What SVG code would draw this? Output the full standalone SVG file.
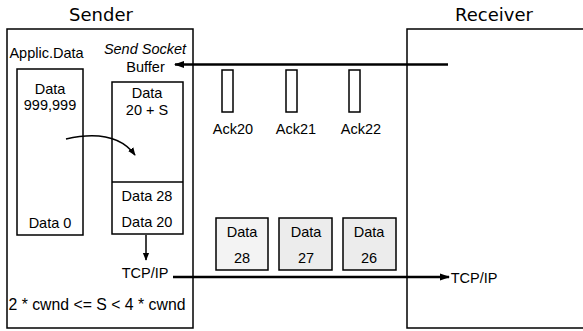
<svg xmlns="http://www.w3.org/2000/svg" width="583" height="331" viewBox="0 0 583 331">
<defs>
<style>
.t{font-family:"Liberation Sans",Arial,sans-serif;font-size:14.5px;fill:#000;text-anchor:middle}
.title{font-family:"DejaVu Sans",Verdana,sans-serif;font-size:18px;fill:#000;text-anchor:middle}
.box{fill:#fff;stroke:#000;stroke-width:1.5}
.pkt{fill:#ececec;stroke:#000;stroke-width:1.5}
.ack{fill:#fff;stroke:#000;stroke-width:1.5}
.ln{fill:none;stroke:#000;stroke-width:1.5}
.thick{fill:none;stroke:#000;stroke-width:2.5}
</style>
<marker id="ah" viewBox="0 0 10 10" refX="9" refY="5" markerWidth="10" markerHeight="10" markerUnits="userSpaceOnUse" orient="auto">
<path d="M0,1.5 L10,5 L0,8.5 Z" fill="#000"/>
</marker>
<marker id="ahs" viewBox="0 0 10 10" refX="9" refY="5" markerWidth="8" markerHeight="10" markerUnits="userSpaceOnUse" orient="auto">
<path d="M0,1 L10,5 L0,9 Z" fill="#000"/>
</marker>
</defs>
<rect width="583" height="331" fill="#fff"/>

<g id="sender">
<text class="title" x="101" y="21">Sender</text>
<rect class="box" x="7" y="29" width="186" height="299"/>
<text class="t" x="46.5" y="58">Applic.Data</text>
<text class="t" x="145" y="54" font-style="italic">Send Socket</text>
<text class="t" x="145.5" y="72">Buffer</text>
<text class="t" x="97" y="310" style="font-size:15.8px">2 * cwnd &lt;= S &lt; 4 * cwnd</text>
</g>

<g id="receiver">
<text class="title" x="494" y="21">Receiver</text>
<rect class="box" x="407" y="29" width="200" height="299"/>
</g>

<g id="applic-data">
<rect class="box" x="17" y="69" width="66" height="166"/>
<text class="t" x="50" y="94">Data</text>
<text class="t" x="50" y="110">999,999</text>
<text class="t" x="50" y="228">Data 0</text>
</g>

<g id="send-buffer">
<rect class="box" x="112" y="82" width="71" height="152"/>
<line class="ln" x1="112" y1="182" x2="183" y2="182"/>
<text class="t" x="147" y="98">Data</text>
<text class="t" x="147" y="115">20 + S</text>
<text class="t" x="147" y="201">Data 28</text>
<text class="t" x="147" y="227">Data 20</text>
</g>

<g id="tcpip-sender">
<text class="t" x="145" y="278">TCP/IP</text>
</g>

<g id="tcpip-receiver">
<text class="t" x="474" y="283">TCP/IP</text>
</g>

<g id="ack20">
<rect class="ack" x="222" y="70" width="11" height="42"/>
<text class="t" x="233" y="134">Ack20</text>
</g>
<g id="ack21">
<rect class="ack" x="286" y="70" width="11" height="42"/>
<text class="t" x="296" y="134">Ack21</text>
</g>
<g id="ack22">
<rect class="ack" x="349" y="70" width="11" height="42"/>
<text class="t" x="361" y="134">Ack22</text>
</g>

<g id="pkt28">
<rect class="pkt" x="216" y="218" width="52" height="52" style="fill:#f3f3f3"/>
<text class="t" x="242" y="237">Data</text>
<text class="t" x="242" y="263">28</text>
</g>
<g id="pkt27">
<rect class="pkt" x="279" y="218" width="53" height="52"/>
<text class="t" x="306" y="237">Data</text>
<text class="t" x="306" y="263">27</text>
</g>
<g id="pkt26">
<rect class="pkt" x="343" y="218" width="53" height="52"/>
<text class="t" x="369" y="237">Data</text>
<text class="t" x="369" y="263">26</text>
</g>

<g id="connectors">
<line class="thick" x1="448" y1="64.5" x2="175" y2="64.5" marker-end="url(#ah)"/>
<line class="thick" x1="173" y1="277" x2="449" y2="277" marker-end="url(#ah)"/>
<line class="ln" x1="146" y1="235" x2="146" y2="260" marker-end="url(#ahs)"/>
<path class="ln" d="M66,139 Q115,128 135,155" marker-end="url(#ahs)"/>
</g>
</svg>
